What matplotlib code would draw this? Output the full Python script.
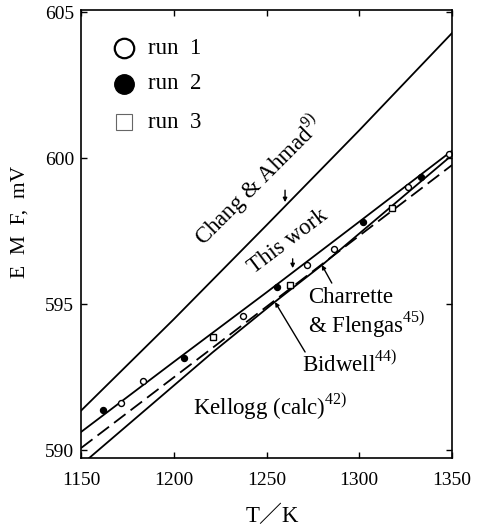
import matplotlib
matplotlib.use("Agg")
import matplotlib.pyplot as plt

plt.rcParams['font.family'] = ['Liberation Serif', 'Noto Sans CJK JP', 'DejaVu Serif']
plt.rcParams['mathtext.fontset'] = 'custom'
plt.rcParams['mathtext.rm'] = 'Liberation Serif'

# ---- data ----
line_T = [1150, 1200, 1250, 1300, 1350]
chang_E = [591.35, 594.48, 597.70, 600.95, 604.28]
thiswork_E = [590.62, 593.02, 595.40, 597.82, 600.25]
bidwell_E = [590.07, 592.49, 594.91, 597.34, 599.76]
kellogg_T = [1150, 1221, 1255, 1280, 1350]
kellogg_E = [589.49, 593.35, 595.10, 596.34, 600.10]

run1_T = [1171.6, 1183.6, 1237.2, 1271.7, 1286.6, 1326.5, 1348.5]
run1_E = [591.61, 592.35, 594.60, 596.35, 596.88, 599.02, 600.14]
run2_T = [1162.0, 1205.7, 1255.5, 1302.2, 1333.3]
run2_E = [591.38, 593.15, 595.57, 597.82, 599.34]
run3_T = [1221.0, 1262.7, 1317.8]
run3_E = [593.88, 595.65, 598.30]

x_ticks = [1150, 1200, 1250, 1300, 1350]
y_ticks = [590, 595, 600, 605]

fig = plt.figure(figsize=(4.83, 5.28), dpi=100)
ax = fig.add_axes([81/483, 1-458/528, 371/483, 448/528])

lw = 1.3
ax.plot(line_T, chang_E, color='black', lw=lw)
ax.plot(line_T, thiswork_E, color='black', lw=lw)
ax.plot(line_T, bidwell_E, color='black', lw=lw, linestyle=(0, (8, 3.5)))
ax.plot(kellogg_T, kellogg_E, color='black', lw=lw)

ms = 4.3
ax.plot(run1_T, run1_E, 'o', mfc='white', mec='black', mew=1.0, ms=ms)
ax.plot(run2_T, run2_E, 'o', mfc='black', mec='black', ms=ms)
ax.plot(run3_T, run3_E, 's', mfc='white', mec='black', mew=1.0, ms=ms - 0.5)

ax.set_xlim(1150, 1350)
ax.set_ylim(589.73, 605.07)
ax.set_xticks(x_ticks)
ax.set_yticks(y_ticks)
ax.tick_params(direction='in', length=4, width=1.0, top=True, right=True,
               labelsize=14)
ax.tick_params(axis='x', pad=10)
ax.tick_params(axis='y', pad=5)
for s in ax.spines.values():
    s.set_linewidth(1.2)

# legend (manual)
leg_y = [0.915, 0.835, 0.75]
ax.plot([0.116], [leg_y[0]], 'o', mfc='white', mec='black', mew=1.6, ms=14,
        transform=ax.transAxes, clip_on=False)
ax.plot([0.116], [leg_y[1]], 'o', mfc='black', mec='black', ms=14,
        transform=ax.transAxes, clip_on=False)
ax.plot([0.116], [leg_y[2]], 's', mfc='white', mec='#666666', mew=0.8, ms=11,
        transform=ax.transAxes, clip_on=False)
for yy, lab in zip(leg_y, ['run  1', 'run  2', 'run  3']):
    ax.text(0.181, yy, lab, transform=ax.transAxes, fontsize=16.5, va='center', ha='left')

# line labels
fs = 16.5
ax.text(1245.4, 599.25, r'Chang & Ahmad$^{\mathrm{9)}}$', fontsize=fs, rotation=45,
        ha='center', va='center', rotation_mode='anchor')
ax.text(1261.6, 597.16, 'This work', fontsize=fs, rotation=37,
        ha='center', va='center', rotation_mode='anchor')
ax.text(1272.4, 595.24, 'Charrette', fontsize=fs, ha='left', va='center')
ax.text(1272.4, 594.32, r'& Flengas$^{\mathrm{45)}}$', fontsize=fs, ha='left', va='center')
ax.text(1269.1, 592.95, r'Bidwell$^{\mathrm{44)}}$', fontsize=fs, ha='left', va='center')
ax.text(1210.4, 591.51, r'Kellogg (calc)$^{\mathrm{42)}}$', fontsize=fs, ha='left', va='center')

ap = dict(arrowstyle='-|>', color='black', lw=1.0, mutation_scale=6, shrinkA=0, shrinkB=0)
ax.annotate('', xy=(1260.0, 598.49), xytext=(1260.0, 598.90), arrowprops=ap)
ax.annotate('', xy=(1264.1, 596.23), xytext=(1264.1, 596.55), arrowprops=ap)
ax.annotate('', xy=(1279.8, 596.34), xytext=(1285.2, 595.72), arrowprops=ap)
ax.annotate('', xy=(1254.6, 595.07), xytext=(1270.8, 593.36), arrowprops=ap)

fig.text(272/483, 1-516/528, 'T／K', fontsize=16.5, ha='center', va='center')
fig.text(20/483, 1-222/528, 'E  M  F,  mV', fontsize=15.5, ha='center', va='center', rotation=90)

fig.savefig('out.png', dpi=100)
